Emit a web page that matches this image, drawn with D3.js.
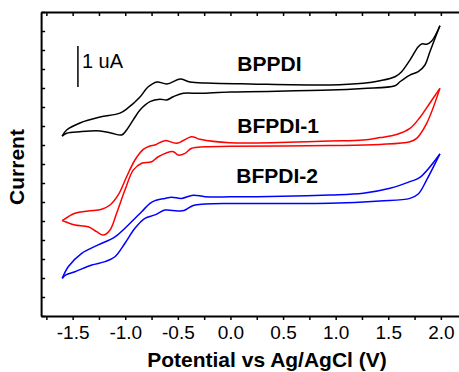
<!DOCTYPE html>
<html>
<head>
<meta charset="utf-8">
<script src="https://cdn.jsdelivr.net/npm/d3@7"></script>
<style>
  body { margin: 0; background: #fff; }
  svg { display: block; font-family: Arial, "Liberation Sans", sans-serif; }
</style>
</head>
<body>
<div id="chart"></div>
<script>

// cyclic voltammograms, [potential (V), current (tick units)]
// each sample has a forward branch (from -1.6 V up to 2.0 V) and the return branch
var bppdiFwd = [[-1.60,9.47],[-1.557,9.79],[-1.431,10.16],[-1.240,10.47],[-1.050,10.68],[-0.974,10.95],
    [-0.860,11.53],[-0.784,12.05],[-0.699,12.32],[-0.604,12.21],[-0.480,12.47],[-0.385,12.32],[-0.223,12.26],
    [0.185,12.21],[0.946,12.16],[1.262,12.25],[1.421,12.38],[1.564,12.59],[1.627,12.86],[1.706,13.47],
    [1.785,14.17],[1.818,14.32],[1.865,14.30],[1.913,14.47],[1.991,15.28]];
var bppdiRev = [[1.991,15.28],[1.896,13.91],[1.849,13.21],[1.785,12.86],[1.706,12.68],[1.611,12.33],
    [1.564,12.12],[1.262,11.98],[0.946,11.89],[-0.003,11.79],[-0.290,11.72],[-0.449,11.72],[-0.544,11.54],
    [-0.606,11.37],[-0.670,11.41],[-0.765,11.28],[-0.860,10.84],[-0.924,10.32],[-0.987,9.79],[-1.034,9.53],
    [-1.129,9.62],[-1.240,9.74],[-1.431,9.70],[-1.557,9.62],[-1.60,9.47]];

var bfpdi1Fwd = [[-1.599,5.02],[-1.478,5.41],[-1.352,5.53],[-1.224,5.62],[-1.145,5.84],[-1.067,6.37],
    [-0.987,7.33],[-0.908,8.21],[-0.829,8.77],[-0.765,8.95],[-0.718,9.00],[-0.623,9.23],[-0.511,9.09],
    [-0.369,9.44],[-0.290,9.30],[-0.005,9.12],[0.946,9.21],[1.262,9.26],[1.421,9.39],[1.580,9.55],
    [1.706,9.87],[1.801,10.45],[1.896,11.21],[1.991,11.98]];
var bfpdi1Rev = [[1.991,11.98],[1.865,10.14],[1.770,9.35],[1.706,9.17],[1.421,9.03],[0.946,8.97],
    [-0.005,8.93],[-0.242,8.91],[-0.369,8.83],[-0.432,8.56],[-0.496,8.47],[-0.544,8.65],[-0.686,8.38],
    [-0.749,8.12],[-0.844,8.04],[-0.924,7.68],[-1.003,6.63],[-1.082,5.41],[-1.145,4.53],[-1.209,4.26],
    [-1.272,4.44],[-1.352,4.70],[-1.478,4.79],[-1.564,4.95],[-1.599,5.02]];

var bfpdi2Fwd = [[-1.599,1.98],[-1.542,2.59],[-1.414,3.30],[-1.257,3.74],[-1.098,4.17],[-0.971,4.79],
    [-0.844,5.49],[-0.765,5.93],[-0.718,6.07],[-0.623,6.19],[-0.559,6.25],[-0.464,6.19],[-0.354,6.36],
    [-0.242,6.28],[-0.005,6.27],[0.946,6.37],[1.262,6.46],[1.516,6.72],[1.706,7.07],[1.801,7.30],[1.991,8.53]];
var bfpdi2Rev = [[1.991,8.53],[1.865,7.16],[1.785,6.42],[1.706,6.19],[1.421,6.05],[0.946,5.93],
    [-0.005,5.92],[-0.242,5.89],[-0.354,5.82],[-0.442,5.55],[-0.499,5.53],[-0.575,5.56],[-0.623,5.58],
    [-0.718,5.32],[-0.813,5.14],[-0.908,4.62],[-1.003,3.83],[-1.098,3.12],[-1.193,2.86],[-1.319,2.68],
    [-1.478,2.33],[-1.564,2.16],[-1.599,1.98]];

var seriesNames = ["BPPDI", "BFPDI-1", "BFPDI-2"];
var seriesColors = ["#000000", "#ff0000", "#0000ff"];

// ticks
var xTicks = [-1.75, -1.5, -1.25, -1.0, -0.75, -0.5, -0.25, 0.0, 0.25, 0.5, 0.75, 1.0, 1.25, 1.5, 1.75, 2.0];
var xLabelTicks = [-1.5, -1.0, -0.5, 0.0, 0.5, 1.0, 1.5, 2.0];
var yTicks = d3.range(0, 17);

// scale bar: 1 uA expressed in tick units
var scaleBarUA = 2.16;


var width = 459, height = 372;
var svg = d3.select("#chart").append("svg")
    .attr("width", width)
    .attr("height", height);

var x = d3.scaleLinear().domain([-1.8, 2.2]).range([41.1, 461.9]);
var y = d3.scaleLinear().domain([0, 16]).range([316, 12]);

// axes
function styleAxis(g) {
    g.select(".domain").attr("stroke", "#000").attr("stroke-width", 2);
    g.selectAll(".tick line").attr("stroke", "#000").attr("stroke-width", 1.5);
}

svg.append("g")
    .attr("transform", "translate(0,316)")
    .call(d3.axisBottom(x).tickValues(xTicks).tickSize(4).tickSizeOuter(0).tickPadding(6)
        .tickFormat(function (d) { return xLabelTicks.indexOf(d) >= 0 ? d.toFixed(1) : ""; }))
    .call(styleAxis)
    .call(function (g) {
        g.selectAll("text").attr("font-size", 19).attr("font-family", null).attr("fill", "#000");
    });

svg.append("g")
    .attr("transform", "translate(0,12)")
    .call(d3.axisTop(x).tickValues(xTicks).tickSize(-4).tickSizeOuter(0).tickFormat(""))
    .call(styleAxis);

svg.append("g")
    .attr("transform", "translate(41.1,0)")
    .call(d3.axisLeft(y).tickValues(yTicks).tickSize(-4).tickSizeOuter(0).tickFormat(""))
    .call(styleAxis);

// axis titles
svg.append("text")
    .attr("x", 267)
    .attr("y", 367)
    .attr("text-anchor", "middle")
    .attr("font-size", 21)
    .attr("font-weight", "bold")
    .text("Potential vs Ag/AgCl (V)");

svg.append("text")
    .attr("transform", "translate(23.5,167) rotate(-90)")
    .attr("text-anchor", "middle")
    .attr("font-size", 21)
    .attr("font-weight", "bold")
    .text("Current");

// curves
var line = d3.line()
    .x(function (d) { return x(d[0]); })
    .y(function (d) { return y(d[1]); })
    .curve(d3.curveCatmullRom.alpha(0.5));

var branches = [
    [bppdiFwd, bppdiRev],
    [bfpdi1Fwd, bfpdi1Rev],
    [bfpdi2Fwd, bfpdi2Rev]
];

branches.forEach(function (b, i) {
    b.forEach(function (d) {
        svg.append("path")
            .datum(d)
            .attr("d", line)
            .attr("fill", "none")
            .attr("stroke", seriesColors[i])
            .attr("stroke-width", 1.5)
            .attr("stroke-linejoin", "round");
    });
});

// sample labels
var labelPos = [[0.065, 12.9], [0.065, 9.65], [0.055, 7.0]];
seriesNames.forEach(function (name, i) {
    svg.append("text")
        .attr("x", x(labelPos[i][0]))
        .attr("y", y(labelPos[i][1]))
        .attr("font-size", 21)
        .attr("font-weight", "bold")
        .text(name);
});

// scale bar
var barV = -1.45, barBottom = 12.05;
svg.append("line")
    .attr("x1", x(barV)).attr("x2", x(barV))
    .attr("y1", y(barBottom)).attr("y2", y(barBottom + scaleBarUA))
    .attr("stroke", "#000")
    .attr("stroke-width", 1.5);

svg.append("text")
    .attr("x", x(barV) + 4)
    .attr("y", y(barBottom + 1))
    .attr("font-size", 20)
    .text("1 uA");

</script>
</body>
</html>
